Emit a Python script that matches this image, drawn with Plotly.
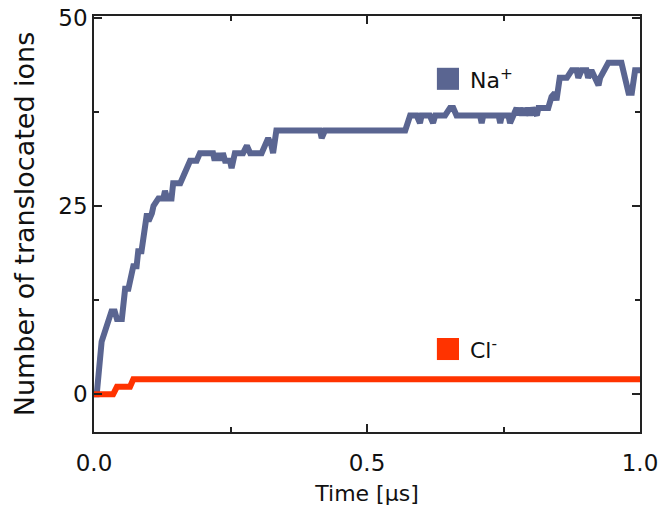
import plotly.graph_objects as go

# Na+ translocation counts vs time (µs)
na_t = [0.0, 0.005, 0.014, 0.023, 0.032, 0.038, 0.042, 0.051, 0.054, 0.057, 0.063, 0.066,
        0.072, 0.078, 0.081, 0.087, 0.097, 0.100, 0.106, 0.109, 0.118, 0.127, 0.130, 0.134,
        0.142, 0.145, 0.158, 0.164, 0.170, 0.176, 0.188, 0.194, 0.218, 0.221, 0.224, 0.227,
        0.230, 0.233, 0.236, 0.240, 0.249, 0.252, 0.258, 0.273, 0.280, 0.286, 0.307, 0.313,
        0.319, 0.325, 0.328, 0.334, 0.414, 0.417, 0.423, 0.570, 0.579, 0.591, 0.597, 0.600,
        0.615, 0.621, 0.625, 0.643, 0.652, 0.658, 0.664, 0.707, 0.710, 0.713, 0.741, 0.744,
        0.747, 0.759, 0.762, 0.768, 0.774, 0.777, 0.780, 0.784, 0.787, 0.790, 0.795, 0.799,
        0.803, 0.811, 0.814, 0.832, 0.838, 0.844, 0.847, 0.853, 0.866, 0.875, 0.884, 0.887,
        0.893, 0.902, 0.905, 0.911, 0.918, 0.924, 0.927, 0.933, 0.942, 0.966, 0.969, 0.973,
        0.979, 0.985, 0.991, 1.0]
na_n = [0, 0, 7, 9, 11, 11, 10, 10, 13, 14, 14, 15,
        17, 17, 19, 19, 24, 23, 24, 25, 26, 26, 27, 26,
        26, 28, 28, 29, 30, 31, 31, 32, 32, 31, 32, 31,
        32, 31, 32, 31, 31, 30, 32, 32, 33, 32, 32, 33,
        34, 33, 32, 35, 35, 34, 35, 35, 37, 37, 36, 37,
        37, 36, 37, 37, 38, 38, 37, 37, 36, 37, 37, 36,
        37, 37, 36, 37, 38, 37, 38, 37, 38, 37, 38, 37,
        38, 37, 38, 38, 39.5, 40, 39, 42, 42, 43, 43, 42,
        43, 43, 42, 43, 42, 41, 42, 43, 44, 44, 43, 42,
        40, 40, 43, 43]

# Cl- translocation counts vs time (µs)
cl_t = [0.0, 0.035, 0.042, 0.066, 0.072, 1.0]
cl_n = [0, 0, 1, 1, 2, 2]

series_names = ["Na<sup>+</sup>", "Cl<sup>-</sup>"]
na_color = "#5a6591"
cl_color = "#ff3300"
font = "DejaVu Sans"

fig = go.Figure()
fig.add_trace(go.Scatter(x=na_t, y=na_n, mode="lines", showlegend=False, name=series_names[0],
                         line=dict(color=na_color, width=6)))
fig.add_trace(go.Scatter(x=cl_t, y=cl_n, mode="lines", showlegend=False, name=series_names[1],
                         line=dict(color=cl_color, width=6)))

axis_common = dict(showline=True, linecolor="#222", linewidth=1.5, mirror="ticks",
                   ticks="inside", ticklen=8, tickwidth=1.5, tickcolor="#222",
                   showgrid=False, zeroline=False, automargin=False,
                   tickfont=dict(family=font, size=23, color="#111"))

# legend swatches + labels (paper coordinates)
legend_items = [(series_names[0], na_color, 0.849), (series_names[1], cl_color, 0.1995)]
shapes, annotations = [], []
for name, col, yc in legend_items:
    shapes.append(dict(type="rect", xref="paper", yref="paper", x0=0.628, x1=0.6685,
                       y0=yc - 0.0265, y1=yc + 0.0265, fillcolor=col, line=dict(width=0)))
    annotations.append(dict(text=name, xref="paper", yref="paper", x=0.685, y=yc,
                            xanchor="left", yanchor="middle", showarrow=False,
                            font=dict(family=font, size=22, color="#111")))

fig.update_layout(
    width=664, height=512,
    margin=dict(l=94, r=24, t=16, b=80),
    paper_bgcolor="white", plot_bgcolor="white",
    font=dict(family=font, color="#111"),
    showlegend=False,
    shapes=shapes, annotations=annotations,
    xaxis=dict(range=[0, 1], tickvals=[0, 0.5, 1], ticktext=["0.0", "0.5", "1.0"],
               ticklabelstandoff=10,
               minor=dict(tickvals=[0.25, 0.75], ticks="inside", ticklen=5, tickcolor="#222", tickwidth=1.5),
               title=dict(text="Time [µs]", font=dict(family=font, size=22), standoff=10),
               **axis_common),
    yaxis=dict(range=[-5, 50.2], tickvals=[0, 25, 50],
               minor=dict(tickvals=[12.5, 37.5], ticks="inside", ticklen=5, tickcolor="#222", tickwidth=1.5),
               title=dict(text="Number of translocated ions", font=dict(family=font, size=27), standoff=16),
               **axis_common),
)

fig.write_html("out.html")
